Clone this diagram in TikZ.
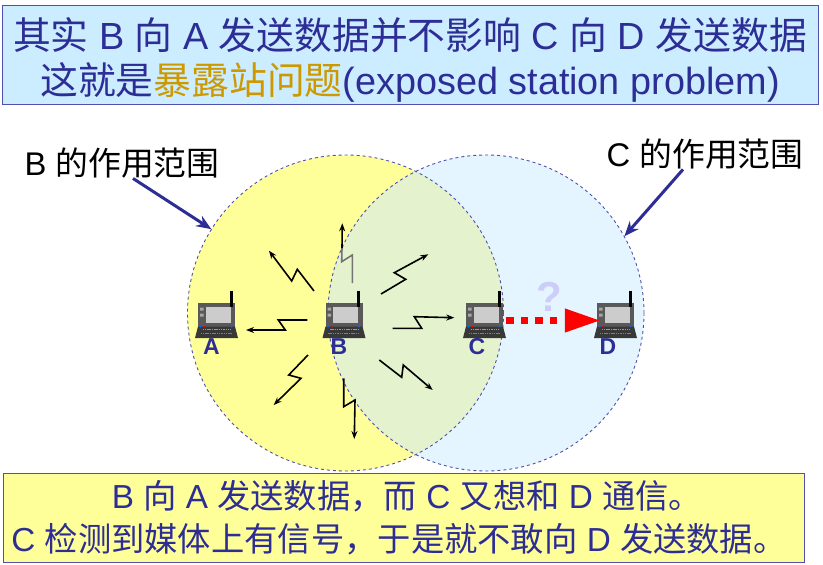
\documentclass[tikz,border=0pt]{standalone}
\usepackage{fontspec}
\setmainfont{Liberation Sans}
\newfontfamily\cjk{Noto Sans CJK SC}
\newcommand{\zh}[1]{{\cjk #1}}
\usetikzlibrary{positioning,arrows.meta}

\definecolor{inkblue}{RGB}{45,45,150}
\definecolor{edgeblue}{RGB}{80,80,175}
\definecolor{skyfill}{RGB}{204,236,255}
\definecolor{lemonfill}{RGB}{255,255,153}
\definecolor{paleblue}{RGB}{229,245,255}
\definecolor{overlapgreen}{RGB}{228,243,205}
\definecolor{gold}{RGB}{204,153,0}

\tikzset{
	notebox/.style={draw=edgeblue, line width=1pt, inner sep=0pt, align=center, text=inkblue},
	rangedisc/.style={circle, minimum size=316pt, inner sep=0pt},
	rangeedge/.style={draw=edgeblue, dashed, line width=0.9pt},
	rangetext/.style={inner sep=0pt, font=\fontsize{32.8}{36}\selectfont},
	rangearrow/.style={draw=inkblue, line width=3pt, -{Stealth[length=15pt,width=12pt]}},
	bolt/.style={draw=black, line width=1.6pt, line join=miter, -{Stealth[length=8pt,width=6pt]}},
	devtext/.style={inner sep=0pt, text=inkblue, font=\fontsize{23}{23}\selectfont\bfseries},
	laptop/.pic={
		\node[minimum width=43pt, minimum height=35pt, inner sep=0pt] (-body) {};
		\fill[black!65] (-18.5,-17.5) rectangle (18.5,6);
		\fill[black!20] (-11,-14) rectangle (14,2);
		\fill[black!78] (-18.5,6) -- (18.5,6) -- (21.5,17.5) -- (-21.5,17.5) -- cycle;
		\draw[black!40, dash pattern=on 1.5pt off 0.8pt, line width=1pt] (-14,9) -- (14,9);
		\draw[black!50, dash pattern=on 1.5pt off 0.8pt, line width=1pt] (-16,13) -- (16,13);
		\fill[blue!60!cyan] (-16,6) circle (1pt) (15,6) circle (1pt);
		\fill[red] (-12.5,6) circle (1pt);
		\fill[black!35] (-16.5,-13) rectangle (-13,-10) (-16.5,-7) rectangle (-13,-4);
		\draw[black, line width=3pt] (14.5,-30) -- (14.5,-14);
	},
}

\begin{document}
\begin{tikzpicture}[x=1pt, y=-1pt]
	\useasboundingbox (0,0) rectangle (823,565);
	% the two ranges
	\node[rangedisc, fill=lemonfill] (Brange) at (345.5,313) {};
	\node[rangedisc, fill=paleblue] (Crange) at (486,313) {};
	\begin{scope}
		\clip (345.5,313) circle (158pt);
		\fill[overlapgreen] (486,313) circle (158pt);
	\end{scope}
	\draw[rangeedge] (Brange.center) circle (158pt);
	\draw[rangeedge] (Crange.center) circle (158pt);

	% text boxes
	\node[notebox, fill=skyfill, minimum width=816pt, minimum height=99pt, font=\fontsize{37.8}{45}\selectfont] (title) at (410,55)
		{\rule{0pt}{41pt}\zh{其实} B \zh{向} A \zh{发送数据并不影响} C \zh{向} D \zh{发送数据}\\
		\zh{这就是}\textcolor{gold}{\zh{暴露站问题}}(exposed station problem)};
	\node[notebox, fill=lemonfill, minimum width=801pt, minimum height=89pt, font=\fontsize{33.3}{43}\selectfont] (note) at (404,517.5)
		{\hspace*{6pt}B \zh{向} A \zh{发送数据，而} C \zh{又想和} D \zh{通信。}\\
		C \zh{检测到媒体上有信号，于是就不敢向} D \zh{发送数据。}\hspace*{10pt}};

	% stations
	\pic (A) at (216.5,320.5) {laptop};
	\pic (B) at (344,320.5) {laptop};
	\pic (C) at (484.5,320.5) {laptop};
	\pic (D) at (615.5,320.5) {laptop};
	\node[devtext, below=0pt of A-body, xshift=-5pt] (Aname) {A};
	\node[devtext, below=0pt of B-body, xshift=-5pt] (Bname) {B};
	\node[devtext, below=0pt of C-body, xshift=-7.5pt] (Cname) {C};
	\node[devtext, below=0pt of D-body, xshift=-7.5pt] (Dname) {D};

	% range labels
	\node[rangetext] (Blabel) at (122,163) {B \zh{的作用范围}};
	\node[rangetext] (Clabel) at (705,154) {C \zh{的作用范围}};
	\draw[rangearrow] ([xshift=11pt]Blabel.south) -- (Brange.148);
	\draw[rangearrow] ([xshift=-22pt]Clabel.south) -- (Crange.29);

	% signals around B
	\draw[bolt] (314,291) -- (297.3,269.3) -- (291.7,281) -- (269,250.7);
	\draw[bolt] (307.3,320) -- (278.3,320) -- (285.3,330) -- (246,330);
	\draw[bolt] (308,355) -- (288.7,375) -- (301,378.3) -- (273.7,405);
	\draw[line width=1.6pt, black!55] (352.3,283) -- (352.3,255) -- (341.7,261.7) -- (342,248);
	\draw[bolt] (342,248) -- (342.3,223.3);
	\draw[bolt] (343.7,378.3) -- (343.7,406.7) -- (355,400) -- (354.3,439);
	\draw[bolt] (381,294) -- (405.7,279.3) -- (394.3,272.7) -- (428.3,254.3);
	\draw[bolt] (392.7,328.3) -- (421.7,328.3) -- (414.3,316.7) -- (454.3,317.7);
	\draw[bolt] (379.3,360) -- (401.7,377.3) -- (403.3,365) -- (432.7,390);

	% C would like to reach D
	\draw[red, line width=7pt, dash pattern=on 7.3pt off 7.3pt, -{Triangle[length=36pt,width=22pt]}] (C-body.east) -- ([xshift=7pt]D-body.west);
	\node[inner sep=0pt, text={rgb,255:red,205;green,205;blue,250}, font=\fontsize{42}{42}\selectfont\bfseries] (query) at (549,297) {?};
\end{tikzpicture}
\end{document}
